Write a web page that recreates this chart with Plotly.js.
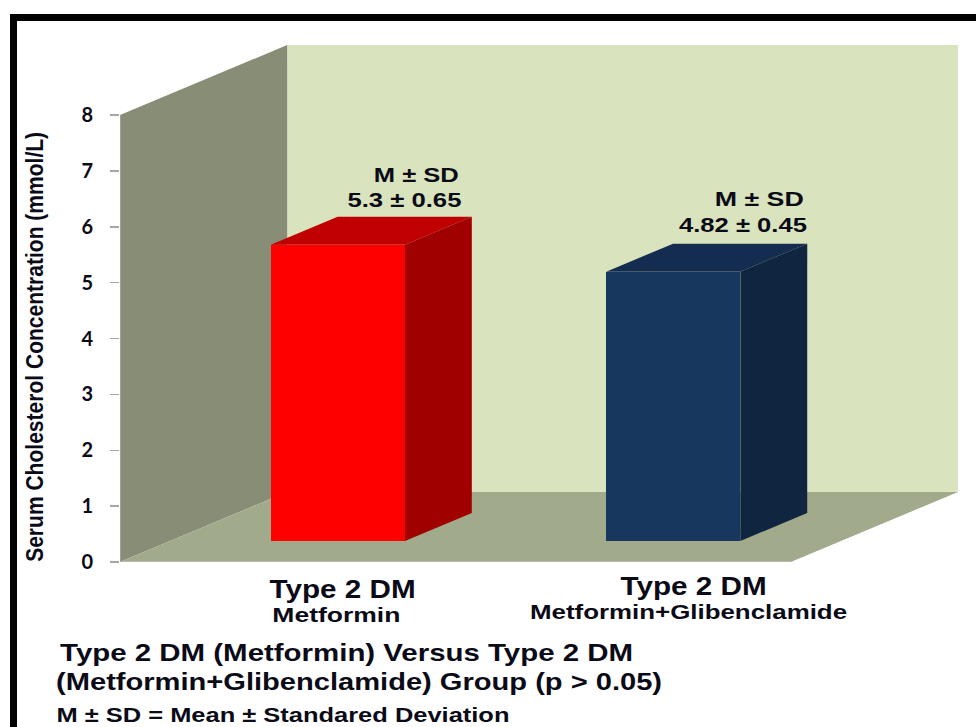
<!DOCTYPE html>
<html>
<head>
<meta charset="utf-8">
<script src="https://cdn.plot.ly/plotly-3.0.1.min.js"></script>
<style>html,body{margin:0;padding:0;background:#fff}#chart{width:976px;height:727px}</style>
</head>
<body>
<div id="chart"></div>
<script>
// Serum cholesterol by treatment group
const groups = ['Metformin', 'Metformin+Glibenclamide'];
const means = [5.3, 4.82];
const sds = [0.65, 0.45];
const yTicks = [0, 1, 2, 3, 4, 5, 6, 7, 8];

const frontColors = ['#ff0000', '#17375e'];
const topColors = ['#c00000', '#142c4f'];
const sideColors = ['#a00000', '#10253f'];

const W = 976, H = 727;
const margin = {l: 120, r: 18, t: 45, b: 165};
const plotW = W - margin.l - margin.r, plotH = H - margin.t - margin.b;

// Oblique projection: a unit of depth shifts a point right and up in axis units
const depthX = 0.4985, depthY = 1.2528;
const axisMax = 8, floorWidth = 2;
const barWidth = 0.4, barNear = 0.3, barFar = 0.7;
const project = (x, v, d) => [x + d * depthX, v + d * depthY];

const polyPath = pts => 'M' + pts.map(p => p[0] + ',' + p[1]).join('L') + 'Z';
const wall = (pts, fill) => ({type: 'path', xref: 'x', yref: 'y', layer: 'below',
  path: polyPath(pts), fillcolor: fill, line: {width: 0}});

const leftWall = [project(0, 0, 0), project(0, axisMax, 0), project(0, axisMax, 1), project(0, 0, 1)];
const backWall = [project(0, 0, 1), project(0, axisMax, 1), project(floorWidth, axisMax, 1), project(floorWidth, 0, 1)];
const floor = [project(0, 0, 0), project(floorWidth, 0, 0), project(floorWidth, 0, 1), project(0, 0, 1)];

const centers = groups.map((_, i) => i + 0.5);
const traces = [];

// Front faces are real bars raised to the bar's near depth
traces.push({
  type: 'bar',
  x: centers.map(c => project(c, 0, barNear)[0]),
  y: means,
  base: means.map(() => barNear * depthY),
  width: barWidth,
  marker: {color: frontColors, line: {width: 0}},
  hoverinfo: 'y', showlegend: false
});

// Top and side faces of each bar
function face(pts, color) {
  traces.push({type: 'scatter', mode: 'lines', fill: 'toself', fillcolor: color,
    x: pts.map(p => p[0]), y: pts.map(p => p[1]),
    line: {width: 0, color: color}, hoverinfo: 'skip', showlegend: false});
}
means.forEach((m, i) => {
  const a = centers[i] - barWidth / 2, b = centers[i] + barWidth / 2;
  face([project(a, m, barNear), project(b, m, barNear), project(b, m, barFar), project(a, m, barFar), project(a, m, barNear)], topColors[i]);
  face([project(b, 0, barNear), project(b, m, barNear), project(b, m, barFar), project(b, 0, barFar), project(b, 0, barNear)], sideColors[i]);
});

// Pixel position helpers for paper-anchored items
const px = x => (x - margin.l) / plotW;
const py = y => (H - margin.b - y) / plotH;

const boldSans = 'Liberation Sans, Arial, sans-serif';
const ink = '#0b0b18';
// Each label: text, centre x, centre y, font size, drawn width
const labels = [
  ['M ± SD', 416, 175, 20, 85],
  [means[0] + ' ± ' + sds[0], 404, 200, 20, 114],
  ['M ± SD', 759, 199, 20, 89],
  [means[1] + ' ± ' + sds[1], 743, 225, 20, 128],
  ['Type 2 DM', 342, 589, 25, 146],
  [groups[0], 336, 615, 20, 128],
  ['Type 2 DM', 693, 586, 25, 146],
  [groups[1], 688, 612, 20, 317],
  ['Type 2 DM (Metformin) Versus Type 2 DM', 346, 652, 24, 573],
  ['(Metformin+Glibenclamide) Group (p > 0.05)', 359, 681, 24, 606],
  ['M ± SD = Mean ± Standared Deviation', 283, 715, 20, 453]
];
const annotations = labels.map(l => ({
  text: '<b>' + l[0].replace('>', '&gt;') + '</b>', xref: 'paper', yref: 'paper', x: px(l[1]), y: py(l[2]),
  xanchor: 'center', yanchor: 'middle', showarrow: false,
  font: {family: boldSans, size: l[3], color: ink}
}));
annotations.push({
  text: '<b>Serum Cholesterol Concentration (mmol/L)</b>', xref: 'paper', yref: 'paper', x: px(35), y: py(347),
  xanchor: 'center', yanchor: 'middle', textangle: -90, showarrow: false,
  font: {family: boldSans, size: 23, color: ink}
});
const labelWidths = labels.map(l => l[4]).concat([430]);

const frame = [
  {x0: 10, x1: 976, y0: 14, y1: 21},
  {x0: 10, x1: 17, y0: 14, y1: 727}
].map(r => ({type: 'rect', xref: 'paper', yref: 'paper', x0: px(r.x0), x1: px(r.x1), y0: py(r.y0), y1: py(r.y1),
  fillcolor: '#000', line: {width: 0}, layer: 'above'}));

const layout = {
  width: W, height: H, margin: margin, autosize: false,
  paper_bgcolor: '#fff', plot_bgcolor: 'rgba(0,0,0,0)', showlegend: false, bargap: 0,
  xaxis: {range: [0, floorWidth + depthX], visible: false, fixedrange: true},
  yaxis: {range: [0, axisMax + depthY], tickvals: yTicks, ticktext: yTicks.map(t => '<b>' + t + '</b>'),
    ticks: 'outside', ticklen: 9, tickwidth: 1.5, tickcolor: '#a6a6a6', ticklabelstandoff: 13,
    tickfont: {family: 'Lato, sans-serif', size: 20, color: ink},
    showgrid: false, zeroline: false, showline: false, fixedrange: true},
  shapes: [
    wall(backWall, '#d9e3bd'), wall(leftWall, '#888e76'), wall(floor, '#a2aa8c'),
    {type: 'line', xref: 'x', yref: 'y', x0: 0, x1: floorWidth, y0: 0, y1: 0, line: {color: '#bdbdbd', width: 1.5}, layer: 'below'},
    {type: 'line', xref: 'x', yref: 'y', x0: 0, x1: 0, y0: 0, y1: axisMax, line: {color: '#a6a6a6', width: 1.5}, layer: 'below'}
  ].concat(frame),
  annotations: annotations
};

Plotly.newPlot('chart', traces, layout, {displayModeBar: false, staticPlot: true}).then(() => {
  // Fit the labels to their intended widths
  document.querySelectorAll('#chart .annotation-text').forEach((el, i) => {
    el.setAttribute('textLength', labelWidths[i]);
    el.setAttribute('lengthAdjust', 'spacingAndGlyphs');
  });
});
</script>
</body>
</html>
